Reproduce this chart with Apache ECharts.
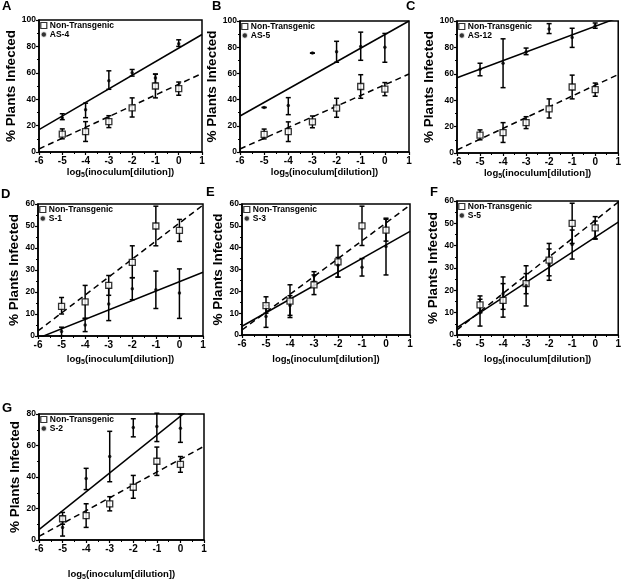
<!DOCTYPE html>
<html><head><meta charset="utf-8">
<script src="https://cdn.jsdelivr.net/npm/echarts@6/dist/echarts.min.js"></script>
<style>html,body{margin:0;padding:0;background:#fff}#c{width:624px;height:582px}</style>
</head><body><div id="c"></div>
<script>
// ---- data ----
const doses = [-5, -4, -3, -2, -1, 0];
const fitX = [-6, 1];
const xTicks = ['-6', '-5', '-4', '-3', '-2', '-1', '0', '1'];

const ntMean = [13.5, 15.5, 23, 33.5, 50, 48];
const ntLow  = [10, 8, 18.5, 26.5, 41, 43];
const ntHigh = [17.5, 23, 27.5, 41, 59, 53];
const ntFit  = [2.3, 59.5];

const as4Mean = [26, 32, 54, 60, 56, 82];
const as4Low  = [24.5, 26, 47.5, 57.5, 52, 80];
const as4High = [29, 37, 61.5, 62.5, 59, 85];
const as4Fit  = [17, 89];

const as5Mean = [34, 35.5, 75.5, 76.5, 80.5, 80];
const as5Low  = [34, 28.5, 75.5, 68.5, 70, 68.5];
const as5High = [34, 41.5, 75.5, 84.5, 91.5, 90.5];
const as5Fit  = [27.5, 100];

const as12Mean = [63.5, 68, 76.5, 94, 87.5, 96.5];
const as12Low  = [58.5, 49.5, 74.5, 90.5, 80, 94.5];
const as12High = [68, 86.5, 79.5, 98, 94.5, 98.5];
const as12Fit  = [57, 102.5];

const s1Mean = [2, 5, 14.5, 21.5, 21, 19.5];
const s1Low  = [0, 2, 7, 16.5, 12.5, 8];
const s1High = [4, 8, 22, 26.5, 29.5, 30.5];
const s1Fit  = [-1, 29];

const s3Mean = [8.5, 13.5, 27, 32, 31, 40.5];
const s3Low  = [3.5, 9, 24.5, 26.5, 27, 27.5];
const s3High = [13.5, 18, 29, 35.5, 35, 53.5];
const s3Fit  = [4, 47.5];

const s5Mean = [10, 18.5, 22, 31.5, 40.5, 43.5];
const s5Low  = [4, 11.5, 13, 24.5, 34, 43];
const s5High = [16, 26, 31, 38.5, 47, 51];
const s5Fit  = [3.3, 50.5];

const s2Mean = [8, 39, 53, 71.5, 72, 71];
const s2Low  = [2.5, 32, 37, 65.5, 62.5, 62];
const s2High = [15, 45.5, 69, 77, 80.5, 80];
const s2Fit  = [6.6, 90.6];

// ---- panels (layout) ----
const panels = [
  {letter:'A', name:'AS-4', mean:as4Mean, low:as4Low, high:as4High, fit:as4Fit, ymax:100, yint:20,
   g:{left:39, top:20, width:163, height:132}, t:[2,0], yGap:8, xGap:12},
  {letter:'B', name:'AS-5', mean:as5Mean, low:as5Low, high:as5High, fit:as5Fit, ymax:100, yint:20,
   g:{left:240, top:21, width:169, height:131}, t:[212,0], yGap:11, xGap:6},
  {letter:'C', name:'AS-12', mean:as12Mean, low:as12Low, high:as12High, fit:as12Fit, ymax:100, yint:20,
   g:{left:457, top:21, width:164, height:132}, t:[406,0], yGap:12, xGap:12},
  {letter:'D', name:'S-1', mean:s1Mean, low:s1Low, high:s1High, fit:s1Fit, ymax:60, yint:10,
   g:{left:38, top:204, width:165, height:132}, t:[1,188], yGap:11, xGap:16},
  {letter:'E', name:'S-3', mean:s3Mean, low:s3Low, high:s3High, fit:s3Fit, ymax:60, yint:10,
   g:{left:242, top:204, width:168, height:131}, t:[206,186], yGap:12, xGap:17},
  {letter:'F', name:'S-5', mean:s5Mean, low:s5Low, high:s5High, fit:s5Fit, ymax:60, yint:10,
   g:{left:457, top:201, width:163, height:134}, t:[430,186], yGap:13, xGap:17},
  {letter:'G', name:'S-2', mean:s2Mean, low:s2Low, high:s2High, fit:s2Fit, ymax:80, yint:20,
   g:{left:39, top:414, width:165, height:134}, t:[2,402], yGap:15, xGap:27}
];

const FONT = '"Liberation Sans", Arial, Helvetica, sans-serif';
const grids = [], xAxes = [], yAxes = [], series = [], titles = [], legends = [];

function errBarRender(params, api) {
  const x = api.value(0), lo = api.value(1), hi = api.value(2);
  const pT = api.coord([x, hi]), pB = api.coord([x, lo]);
  const cw = 2.5;
  const st = {stroke:'#000', lineWidth:1.5};
  return {type:'group', children:[
    {type:'line', shape:{x1:pT[0], y1:pT[1], x2:pB[0], y2:pB[1]}, style:st},
    {type:'line', shape:{x1:pT[0]-cw, y1:pT[1], x2:pT[0]+cw, y2:pT[1]}, style:st},
    {type:'line', shape:{x1:pB[0]-cw, y1:pB[1], x2:pB[0]+cw, y2:pB[1]}, style:st}
  ]};
}

panels.forEach((p, i) => {
  grids.push(Object.assign({show:true, borderColor:'#000', borderWidth:1.5, backgroundColor:'transparent'}, p.g));
  xAxes.push({
    type:'value', gridIndex:i, min:-6, max:1, interval:1,
    axisLine:{show:true, onZero:false, lineStyle:{color:'#000', width:1.5}},
    axisTick:{show:true, inside:false, length:3, lineStyle:{color:'#000', width:1.2}},
    minorTick:{show:true, splitNumber:2, length:2, lineStyle:{color:'#000', width:1}},
    splitLine:{show:false},
    axisLabel:{fontFamily:FONT, fontWeight:'bold', fontSize:10, color:'#000', margin:4,
      formatter: v => xTicks[Math.round(v + 6)]},
    name:'{a|log}{s|5}{a|(inoculum[dilution])}', nameLocation:'middle', nameGap:p.xGap,
    nameTextStyle:{rich:{
      a:{fontFamily:FONT, fontWeight:'bold', fontSize:9.5, color:'#000'},
      s:{fontFamily:FONT, fontWeight:'bold', fontSize:7, color:'#000', padding:[7,0,0,0]}
    }}
  });
  yAxes.push({
    type:'value', gridIndex:i, min:0, max:p.ymax, interval:p.yint,
    axisLine:{show:true, onZero:false, lineStyle:{color:'#000', width:1.5}},
    axisTick:{show:true, inside:false, length:3, lineStyle:{color:'#000', width:1.2}},
    minorTick:{show:true, splitNumber:2, length:2, lineStyle:{color:'#000', width:1}},
    splitLine:{show:false},
    axisLabel:{fontFamily:FONT, fontWeight:'bold', fontSize:8.5, color:'#000', margin:3},
    name:'% Plants Infected', nameLocation:'middle', nameGap:p.yGap, nameRotate:90,
    nameTextStyle:{fontFamily:FONT, fontWeight:'bold', fontSize:13.5, color:'#000'}
  });
  titles.push({text:p.letter, left:p.t[0], top:p.t[1], padding:0,
    textStyle:{fontFamily:FONT, fontWeight:'bold', fontSize:13, color:'#000'}});
  legends.push({
    orient:'vertical', left:p.g.left + 1, top:p.g.top + 1, padding:0, itemGap:0,
    itemWidth:6, itemHeight:6, selectedMode:false,
    textStyle:{fontFamily:FONT, fontWeight:'bold', fontSize:8.5, color:'#000', lineHeight:9, padding:[0,0,0,-2]},
    data:[
      {name:'Non-Transgenic', icon:'rect', itemStyle:{color:'#fff', borderColor:'#000', borderWidth:1.2}},
      {name:p.name, icon:'circle', itemStyle:{color:'#000', borderColor:'#fff', borderWidth:1.6}}
    ]
  });
  // fit lines
  series.push({type:'line', xAxisIndex:i, yAxisIndex:i, data:fitX.map((x,k)=>[x, ntFit[k]]),
    symbol:'none', clip:true, silent:true, z:2, lineStyle:{color:'#000', width:1.5, type:[6,4]}});
  series.push({type:'line', xAxisIndex:i, yAxisIndex:i, data:fitX.map((x,k)=>[x, p.fit[k]]),
    symbol:'none', clip:true, silent:true, z:2, lineStyle:{color:'#000', width:1.5, type:'solid'}});
  // error bars
  series.push({type:'custom', xAxisIndex:i, yAxisIndex:i, z:3, silent:true, clip:false,
    data:doses.map((x,k)=>[x, ntLow[k], ntHigh[k]]), renderItem:errBarRender});
  series.push({type:'custom', xAxisIndex:i, yAxisIndex:i, z:3, silent:true, clip:false,
    data:doses.map((x,k)=>[x, p.low[k], p.high[k]]), renderItem:errBarRender});
  // points
  series.push({type:'scatter', name:'Non-Transgenic', xAxisIndex:i, yAxisIndex:i, z:4,
    symbol:'rect', symbolSize:6, data:doses.map((x,k)=>[x, ntMean[k]]),
    itemStyle:{color:'#fff', borderColor:'#000', borderWidth:1.3}});
  series.push({type:'scatter', name:p.name, xAxisIndex:i, yAxisIndex:i, z:5,
    symbol:'circle', symbolSize:3.5, data:doses.map((x,k)=>[x, p.mean[k]]),
    itemStyle:{color:'#000'}});
});

const chart = echarts.init(document.getElementById('c'), null, {renderer:'canvas'});
chart.setOption({
  animation:false, backgroundColor:'#fff',
  title:titles, legend:legends, grid:grids, xAxis:xAxes, yAxis:yAxes, series:series
});
</script></body></html>
